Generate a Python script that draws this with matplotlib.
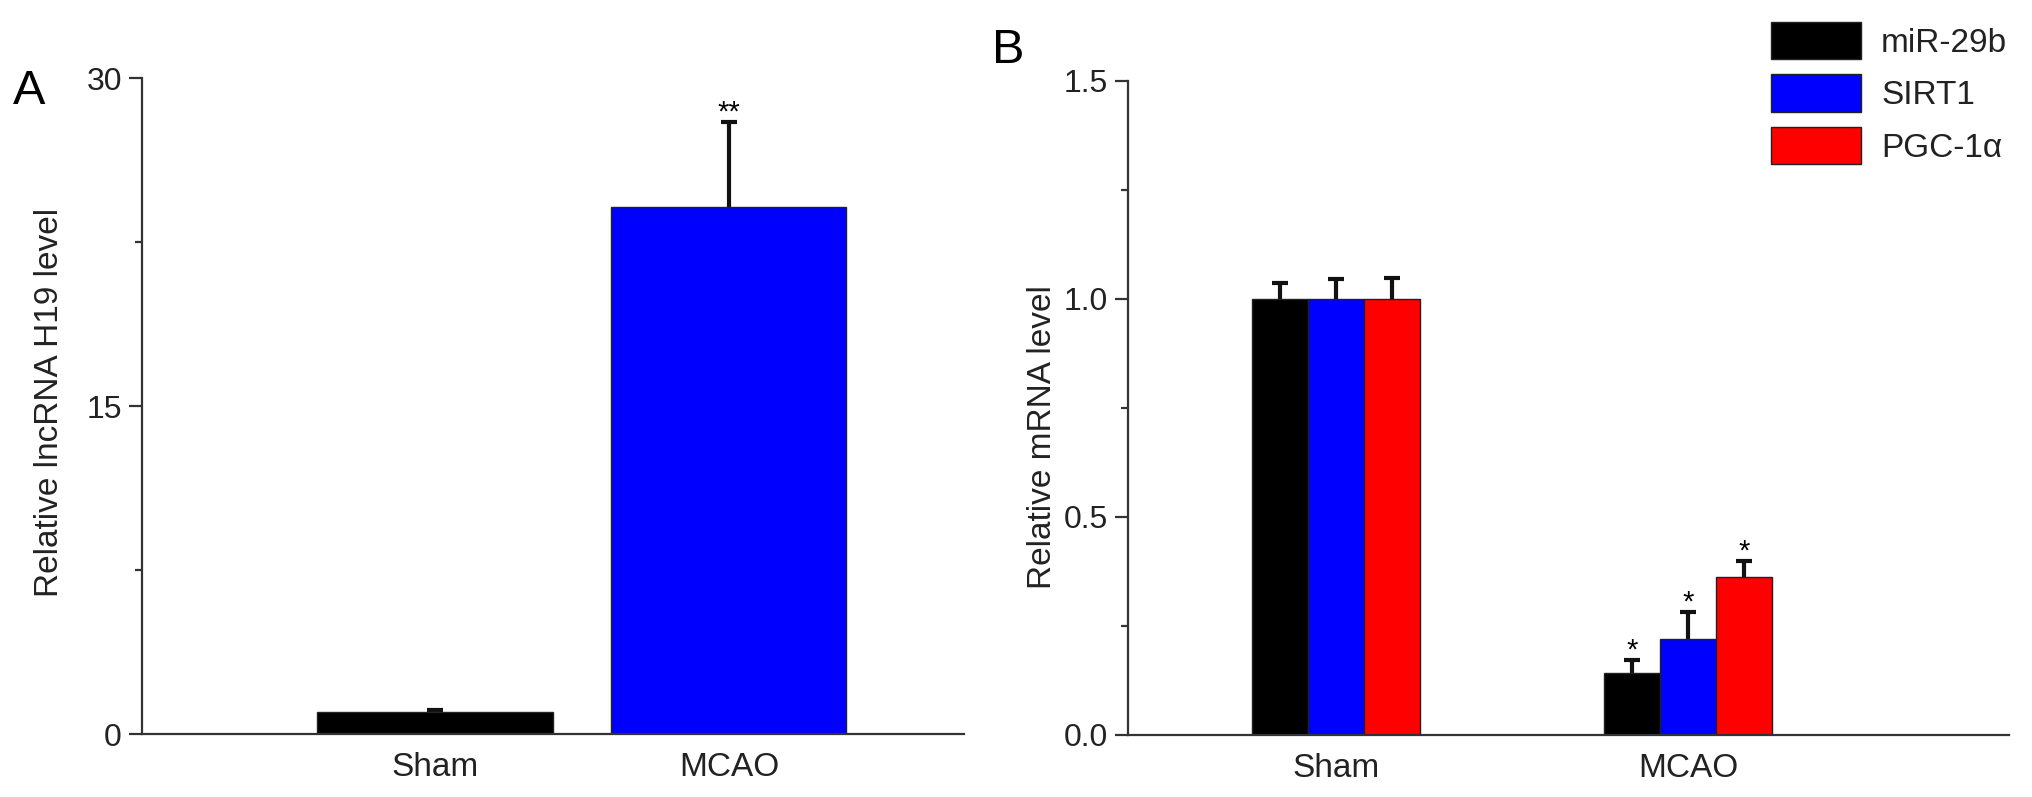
import matplotlib
matplotlib.use("Agg")
from matplotlib import pyplot as plt
from matplotlib.patches import Patch
from matplotlib.ticker import MultipleLocator
import numpy as np

plt.rcParams['font.family'] = ['Liberation Sans', 'DejaVu Sans']

# Panel A data
groups_a = ["Sham", "MCAO"]
h19_mean = [1.0, 24.1]
h19_err = [0.1, 3.9]
h19_colors = ["#000000", "#0000ff"]
h19_marks = ["", "**"]

# Panel B data
groups_b = ["Sham", "MCAO"]
genes = ["miR-29b", "SIRT1", "PGC-1\u03b1"]
gene_colors = ["#000000", "#0000ff", "#ff0000"]
mrna_mean = [[1.0, 0.142],   # miR-29b
             [1.0, 0.220],   # SIRT1
             [1.0, 0.362]]   # PGC-1a
mrna_err = [[0.037, 0.030],
            [0.046, 0.062],
            [0.048, 0.037]]
mrna_marks = [["", "*"], ["", "*"], ["", "*"]]

W, H = 2032, 797
fig = plt.figure(figsize=(W / 100, H / 100), dpi=100)

axis_col = "#333333"
tick_fs = 23
lab_fs = 24
star_fs = 21


def style_axis(ax):
    for s in ["top", "right"]:
        ax.spines[s].set_visible(False)
    for s in ["left", "bottom"]:
        ax.spines[s].set_color(axis_col)
        ax.spines[s].set_linewidth(1.6)
    ax.tick_params(axis="y", which="major", direction="out", length=9.5,
                   width=1.6, color=axis_col, labelsize=tick_fs, pad=5,
                   labelcolor="#222222")
    ax.tick_params(axis="y", which="minor", direction="out", length=5,
                   width=1.6, color=axis_col)
    ax.tick_params(axis="x", length=0, labelsize=lab_fs, pad=13,
                   labelcolor="#222222")


# symmetric bars drawn behind the columns, so only the upper half shows
err_kw = dict(fmt="none", ecolor="#111111", elinewidth=3, capsize=6,
              capthick=3, zorder=1)

# ---- Panel A ----
ax_a = fig.add_axes([142 / W, 1 - 734 / H, (964 - 142) / W, (734 - 78) / H])
xa = np.arange(len(groups_a))
ax_a.bar(xa, h19_mean, width=0.8, color=h19_colors, edgecolor="#222222",
         linewidth=1.0, zorder=2)
ax_a.errorbar(xa, h19_mean, yerr=h19_err, **err_kw)
for x, m, e, t in zip(xa, h19_mean, h19_err, h19_marks):
    if t:
        ax_a.annotate(t, (x, m + e), xytext=(0, 1), textcoords="offset points",
                      ha="center", va="baseline", fontsize=star_fs)
ax_a.set_xlim(-0.997, 1.80)
ax_a.set_ylim(0, 30)
ax_a.set_yticks([0, 15, 30])
ax_a.yaxis.set_minor_locator(MultipleLocator(7.5))
ax_a.set_xticks(xa)
ax_a.set_xticklabels(groups_a)
ax_a.set_ylabel("Relative lncRNA H19 level", fontsize=lab_fs, color="#222222")
ax_a.yaxis.set_label_coords(-0.094, 0.505)
style_axis(ax_a)

# ---- Panel B ----
ax_b = fig.add_axes([1128 / W, 1 - 735 / H, (2009 - 1128) / W, (735 - 81) / H])
xb = np.arange(len(groups_b))
bw = 0.16
for i, (g, c) in enumerate(zip(genes, gene_colors)):
    pos = xb + (i - 1) * bw
    ax_b.bar(pos, mrna_mean[i], width=bw, color=c, edgecolor="#222222",
             linewidth=1.0, label=g, zorder=2)
    ax_b.errorbar(pos, mrna_mean[i], yerr=mrna_err[i], **err_kw)
    for x, m, e, t in zip(pos, mrna_mean[i], mrna_err[i], mrna_marks[i]):
        if t:
            ax_b.annotate(t, (x, m + e), xytext=(0, 1),
                          textcoords="offset points", ha="center",
                          va="baseline", fontsize=star_fs)
ax_b.set_xlim(-0.591, 1.912)
ax_b.set_ylim(0, 1.5)
ax_b.set_yticks([0, 0.5, 1.0, 1.5])
ax_b.set_yticklabels(["0.0", "0.5", "1.0", "1.5"])
ax_b.yaxis.set_minor_locator(MultipleLocator(0.25))
ax_b.set_xticks(xb)
ax_b.set_xticklabels(groups_b)
ax_b.set_ylabel("Relative mRNA level", fontsize=lab_fs, color="#222222")
ax_b.yaxis.set_label_coords(-0.079, 0.456)
style_axis(ax_b)

handles = [Patch(facecolor=c, edgecolor="#222222", linewidth=1.0)
           for c in gene_colors]
fig.legend(handles, genes, loc="upper left",
           bbox_to_anchor=(1771 / W, 1 - 22 / H), frameon=False,
           fontsize=lab_fs, handlelength=2.7, handleheight=1.35,
           labelspacing=0.45, handletextpad=0.6, borderpad=0,
           borderaxespad=0, labelcolor="#222222")

# panel letters
fig.text(13 / W, 1 - 104 / H, "A", fontsize=35, va="baseline", ha="left")
fig.text(992 / W, 1 - 63 / H, "B", fontsize=35, va="baseline", ha="left")

fig.savefig("out.png", dpi=100)
